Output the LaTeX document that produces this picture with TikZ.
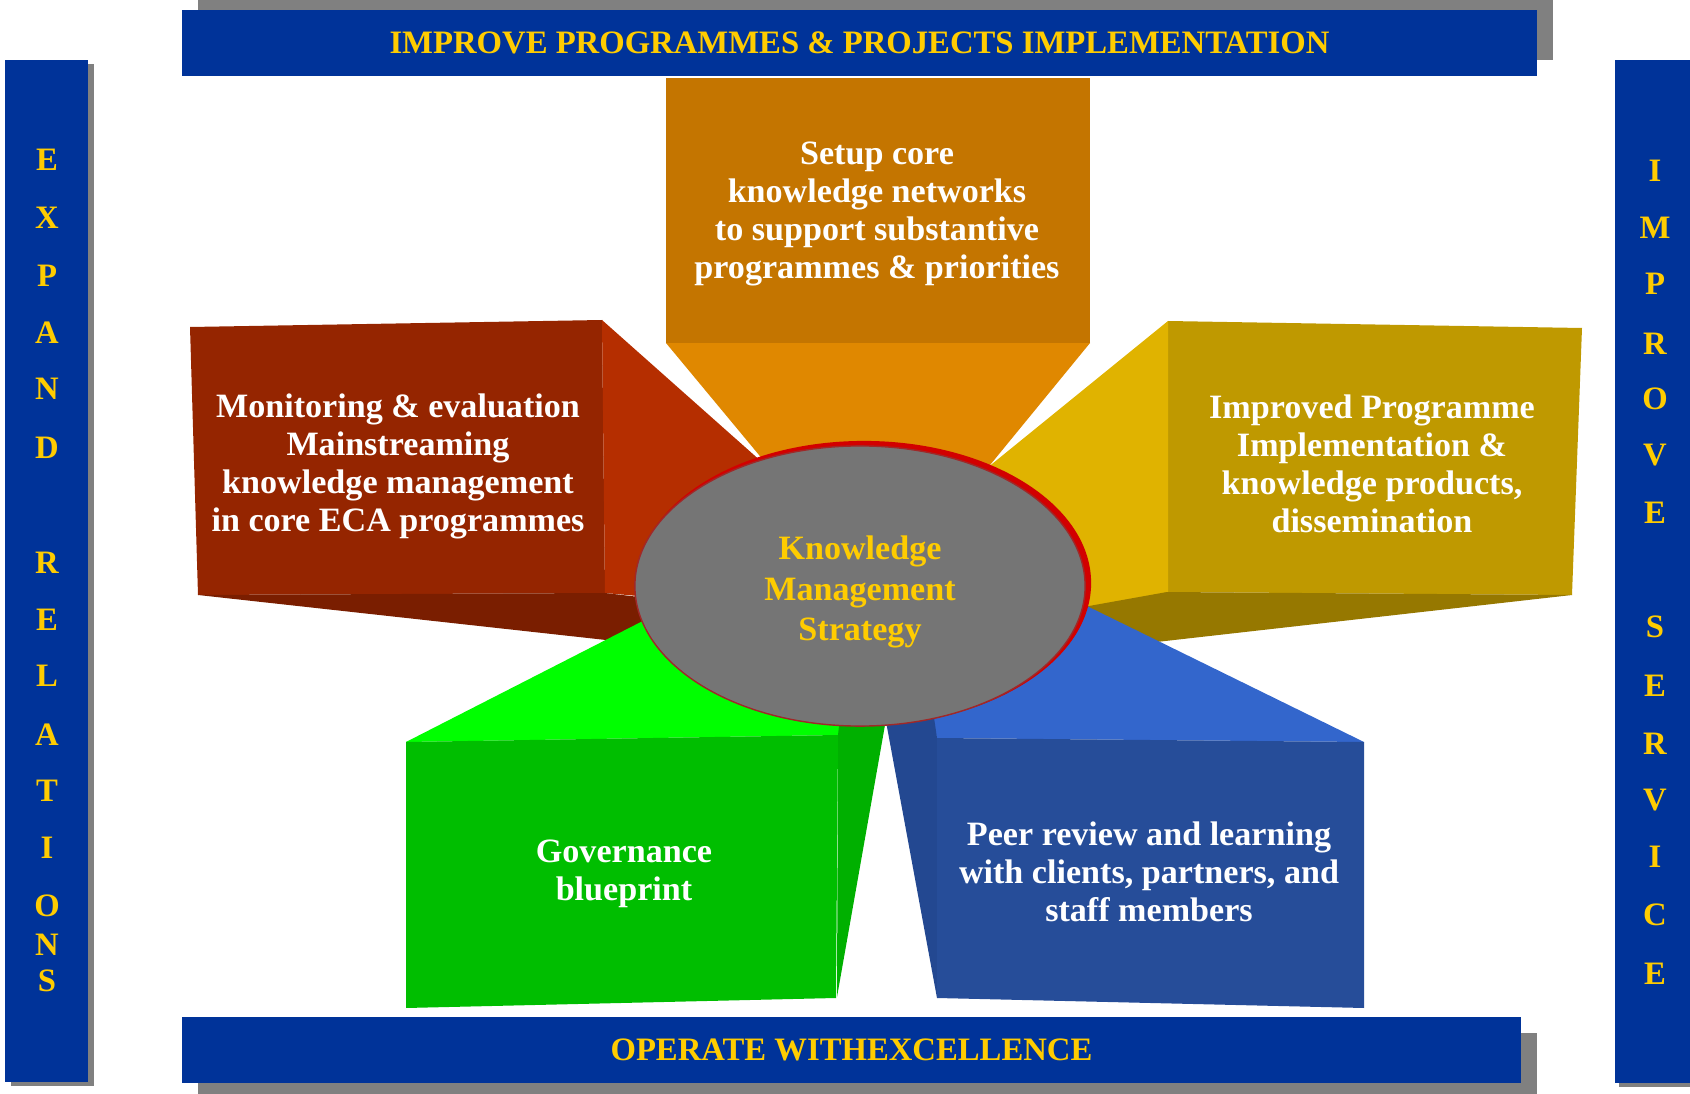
\documentclass[tikz,border=0pt]{standalone}
\usepackage{fontspec}
\setmainfont{Liberation Serif}
\usetikzlibrary{shapes.geometric,shadows}
\definecolor{kmblue}{RGB}{0,51,153}
\definecolor{kmshadow}{RGB}{128,128,128}
\definecolor{kmyellow}{RGB}{255,204,0}
\definecolor{kmgray}{RGB}{117,117,117}
\definecolor{rimred}{RGB}{210,0,0}
\definecolor{rimdark}{RGB}{160,40,40}
\definecolor{redfront}{RGB}{149,37,0}
\definecolor{redside}{RGB}{181,46,0}
\definecolor{redbottom}{RGB}{122,30,0}
\definecolor{orfront}{RGB}{196,117,0}
\definecolor{orbottom}{RGB}{224,136,0}
\definecolor{yefront}{RGB}{191,153,0}
\definecolor{yeside}{RGB}{224,179,0}
\definecolor{yebottom}{RGB}{150,120,0}
\definecolor{grfront}{RGB}{0,190,0}
\definecolor{grtop}{RGB}{0,255,0}
\definecolor{grside}{RGB}{0,176,0}
\definecolor{blfront}{RGB}{38,77,153}
\definecolor{bltop}{RGB}{51,102,204}
\definecolor{blside}{RGB}{35,72,145}
\newcommand\barfont{\bfseries\fontsize{9.3}{11}\selectfont}
\newcommand\facefont{\bfseries\fontsize{9.7}{10.8}\selectfont}
\newcommand\kmfont{\bfseries\fontsize{9.7}{11.4}\selectfont}
\begin{document}
\begin{tikzpicture}[x=0.01cm,y=-0.01cm,
	bar/.style={fill=kmblue,inner sep=0pt,outer sep=0pt},
	bartext/.style={text=kmyellow,font=\barfont},
	facetext/.style={text=white,align=center,font=\facefont}]
\useasboundingbox (0,0) rectangle (1690,1094);
% banners and side bars
\node[bar,bartext,minimum width=13.55cm,minimum height=0.66cm,
	drop shadow={shadow xshift=0.16cm,shadow yshift=0.16cm,fill=kmshadow,opacity=1}]
	(topbar) at (859.5,43) {IMPROVE PROGRAMMES \& PROJECTS IMPLEMENTATION};
\node[bar,bartext,minimum width=13.39cm,minimum height=0.66cm,
	drop shadow={shadow xshift=0.16cm,shadow yshift=-0.16cm,fill=kmshadow,opacity=1}]
	(bottombar) at (851.5,1050) {OPERATE WITHEXCELLENCE};
\node[bar,minimum width=0.83cm,minimum height=10.22cm,
	drop shadow={shadow xshift=0.06cm,shadow yshift=-0.04cm,fill=kmshadow,opacity=1}]
	(leftbar) at (46.5,571) {};
\node[bar,minimum width=0.75cm,minimum height=10.23cm,
	drop shadow={shadow xshift=0.04cm,shadow yshift=-0.04cm,fill=kmshadow,opacity=1}]
	(rightbar) at (1652.5,571.5) {};
\foreach \ch/\yy [count=\i] in {E/160,X/218,P/276,A/333,N/389,D/448,R/563,E/620,L/676,A/735,T/791,I/848,O/906,N/945,S/981}
	\node[bartext] (left\i) at (47,\yy) {\ch};
\foreach \ch/\yy [count=\i] in {I/171,M/228,P/284,R/344,O/399,V/455,E/513,S/627,E/686,R/744,V/800,I/857,C/915,E/974}
	\node[bartext] (right\i) at (1655,\yy) {\ch};
% left box
\fill[redfront] (190,327) -- (602,320) -- (605,593) -- (198,595) -- cycle;
\fill[redside] (602,320) -- (790,487) -- (660,598) -- (605,593) -- cycle;
\fill[redbottom] (198,595) -- (605,593) -- (665,600) -- (665,620) -- (606,640) -- cycle;
% top box
\fill[orbottom] (666,343) -- (1090,343) -- (945,520) -- (813,520) -- cycle;
\fill[orfront] (666,78) rectangle (1090,343);
% right box
\fill[yefront] (1168,321) -- (1582,328) -- (1572,595) -- (1168,592) -- cycle;
\fill[yeside] (1168,321) -- (960,490) -- (1000,630) -- (1168,630) -- cycle;
\fill[yebottom] (1050,613) -- (1167,592) -- (1572,595) -- (1130,645) -- cycle;
% lower left box
\fill[grtop] (406,742) -- (680,602) -- (885,690) -- (885,725) -- (838,735) -- cycle;
\fill[grside] (838,735) -- (842,700) -- (885,700) -- (885,725) -- (837,997) -- cycle;
\fill[grfront] (406,742) -- (838,735) -- (836,998) -- (406,1008) -- cycle;
% lower right box
\fill[bltop] (932,722) -- (900,650) -- (1040,583) -- (1364,742) -- (937,738) -- cycle;
\fill[blside] (887,727) -- (885,690) -- (930,690) -- (937,738) -- (937,998) -- cycle;
\fill[blfront] (937,738) -- (1364,742) -- (1364,1008) -- (937,998) -- cycle;
% centre
\node[ellipse,fill=rimred,minimum width=4.54cm,minimum height=2.84cm] (rim) at (864,583) {};
\node[ellipse,fill=kmgray,draw=rimdark,line width=0.4pt,inner sep=0pt,
	minimum width=4.5cm,minimum height=2.8cm] (kms) at (860,586) {};
\node[text=kmyellow,font=\kmfont,align=center] (kmtext) at (860,592) {Knowledge\\Management\\Strategy};
% texts
\node[facetext] (setup) at (877,214) {Setup core\\knowledge networks\\to support substantive\\programmes \& priorities};
\node[facetext] (monitor) at (398,466) {Monitoring \& evaluation\\Mainstreaming\\knowledge management\\in core ECA programmes};
\node[facetext] (improved) at (1372,464) {Improved Programme\\Implementation \&\\knowledge products,\\dissemination};
\node[facetext] (governance) at (624,874) {Governance\\blueprint};
\node[facetext] (peer) at (1149,872) {Peer review and learning\\with clients, partners, and\\staff members};
\end{tikzpicture}
\end{document}
